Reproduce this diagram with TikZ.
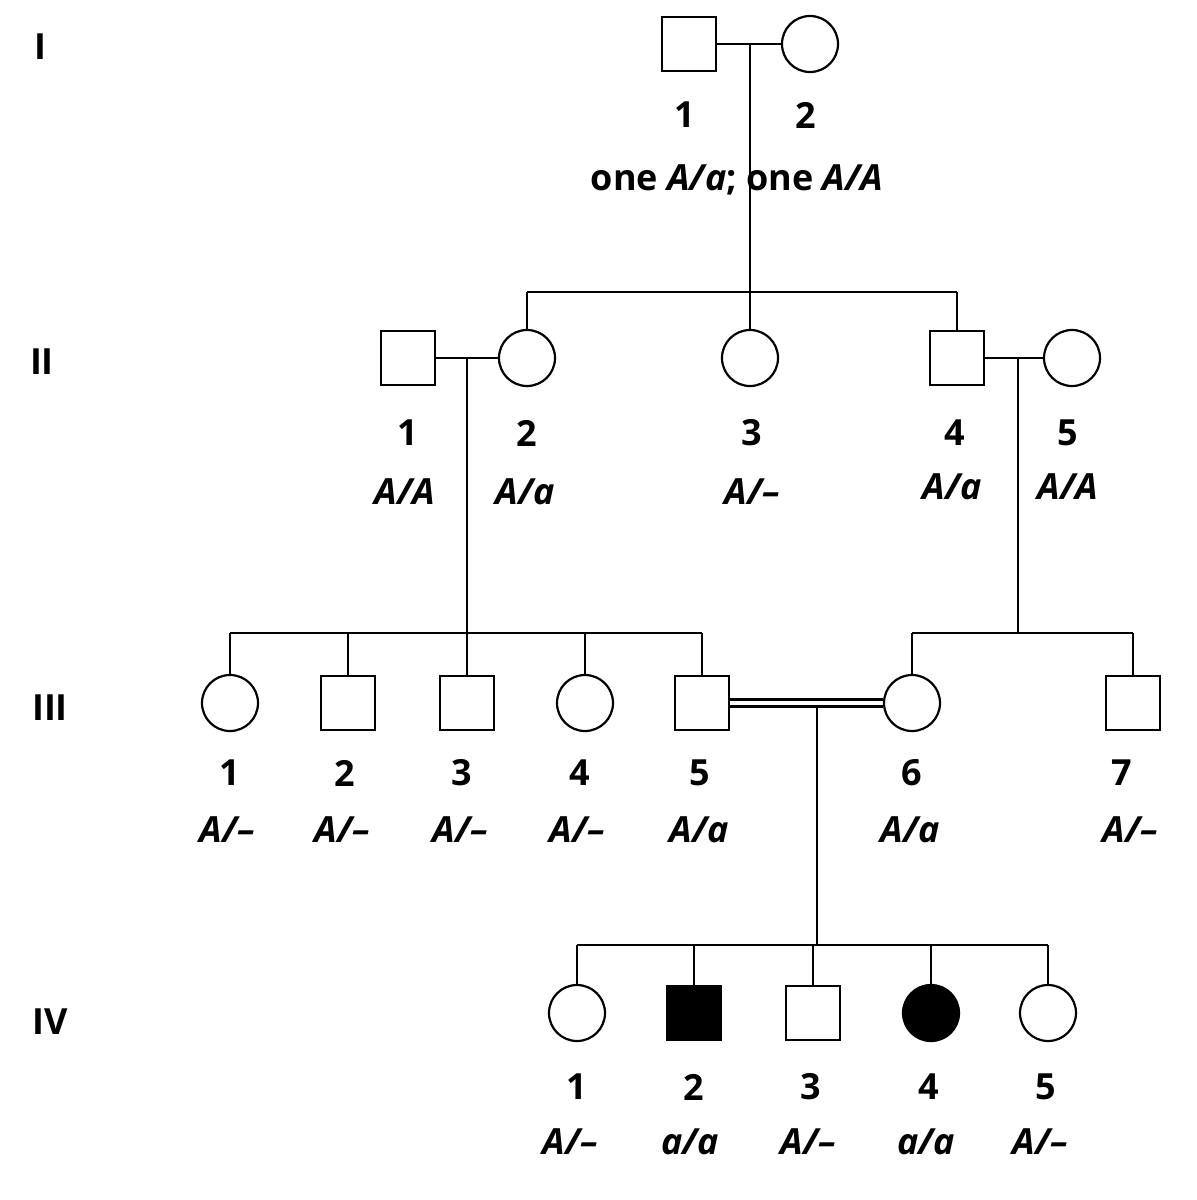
\documentclass[tikz,border=0pt]{standalone}
\usepackage{fontspec}
\setmainfont{Open Sans}
\begin{document}
\begin{tikzpicture}[x=1pt,y=-1pt,line width=2.2pt,
  m/.style={draw,minimum size=54pt,inner sep=0pt,rectangle},
  f/.style={draw,minimum size=56pt,inner sep=0pt,circle},
  filled/.style={fill=black},
  lab/.style={inner sep=0pt,font=\fontsize{36}{38}\selectfont\bfseries},
  gt/.style={inner sep=0pt,font=\fontsize{36}{38}\selectfont\bfseries\itshape}]
\useasboundingbox (0,0) rectangle (1197,1200);
% generation labels
\node[lab] (gI) at (40,47) {I};
\node[lab] (gII) at (42,362) {II};
\node[lab] (gIII) at (50,708) {III};
\node[lab] (gIV) at (50,1022) {IV};
% Gen I
\node[m] (I1) at (689,44) {};
\node[f] (I2) at (810,44) {};
\coordinate (mI) at (750,44);
\coordinate (sI) at (750,292);
\draw (I1) -- (I2);
\draw (mI) -- (sI);
\node[lab] (nI1) at (685,115) {1};
\node[lab] (nI2) at (806,115) {2};
\node[lab] (gtI) at (737,180) {one \textit{A/a}; one \textit{A/A}};
% Gen II
\node[m] (II1) at (408,358) {};
\node[f] (II2) at (527,358) {};
\node[f] (II3) at (750,358) {};
\node[m] (II4) at (957,358) {};
\node[f] (II5) at (1072,358) {};
\coordinate (sIIa) at (527,292);
\coordinate (sIIb) at (957,292);
\draw (sIIa) -- (sIIb);
\draw (sIIa) -- (II2); \draw (sI) -- (II3); \draw (sIIb) -- (II4);
\draw (II1) -- (II2); \draw (II4) -- (II5);
\coordinate (mII1) at (467,358); \coordinate (dII1) at (467,633);
\coordinate (mII2) at (1018,358); \coordinate (dII2) at (1018,633);
\draw (mII1) -- (dII1); \draw (mII2) -- (dII2);
\node[lab] at (408,433) {1}; \node[gt] at (405,492) {A/A};
\node[lab] at (527,433) {2}; \node[gt] at (525,492) {A/a};
\node[lab] at (752,433) {3}; \node[gt] at (752,492) {A/–};
\node[lab] at (955,433) {4}; \node[gt] at (952,487) {A/a};
\node[lab] at (1068,433) {5}; \node[gt] at (1068,487) {A/A};
% Gen III
\foreach \n/\x/\s in {1/230/f,2/348/m,3/467/m,4/585/f,5/702/m,6/912/f,7/1133/m}
  \node[\s] (III\n) at (\x,703) {};
\coordinate (a1) at (230,633); \coordinate (a5) at (702,633);
\draw (a1) -- (a5);
\foreach \n/\x in {1/230,2/348,3/467,4/585,5/702} {\coordinate (t\n) at (\x,633); \draw (t\n) -- (III\n);}
\coordinate (t6) at (912,633); \coordinate (t7) at (1133,633);
\draw (t6) -- (t7); \draw (t6) -- (III6); \draw (t7) -- (III7);
\draw ([yshift=-3.5pt]III5.east) -- ([yshift=-3.5pt]III6.west);
\draw ([yshift=3.5pt]III5.east) -- ([yshift=3.5pt]III6.west |- III5.east);
\coordinate (mIII) at (817,707); \coordinate (sIV) at (817,945);
\draw (mIII) -- (sIV);
\foreach \n/\x/\g in {1/230/A/–,2/345/A/–,3/462/A/–,4/580/A/–,5/700/A/a,6/912/A/a} {
  \node[lab] at (\x,773) {\n};}
\node[gt] at (227,830) {A/–}; \node[gt] at (342,830) {A/–};
\node[gt] at (460,830) {A/–}; \node[gt] at (577,830) {A/–};
\node[gt] at (699,830) {A/a}; \node[gt] at (910,830) {A/a};
\node[lab] at (1122,773) {7}; \node[gt] at (1130,830) {A/–};
% Gen IV
\node[f] (IV1) at (577,1013) {};
\node[m,filled] (IV2) at (694,1013) {};
\node[m] (IV3) at (813,1013) {};
\node[f,filled] (IV4) at (931,1013) {};
\node[f] (IV5) at (1048,1013) {};
\coordinate (b1) at (577,945); \coordinate (b5) at (1048,945);
\draw (b1) -- (b5);
\foreach \n/\x in {1/577,2/694,3/813,4/931,5/1048} {\coordinate (u\n) at (\x,945); \draw (u\n) -- (IV\n);}
\foreach \n/\x in {1/577,2/694,3/811,4/929,5/1046} \node[lab] at (\x,1087) {\n};
\node[gt] at (570,1142) {A/–}; \node[gt] at (690,1142) {a/a};
\node[gt] at (808,1142) {A/–}; \node[gt] at (926,1142) {a/a};
\node[gt] at (1040,1142) {A/–};
\end{tikzpicture}
\end{document}
